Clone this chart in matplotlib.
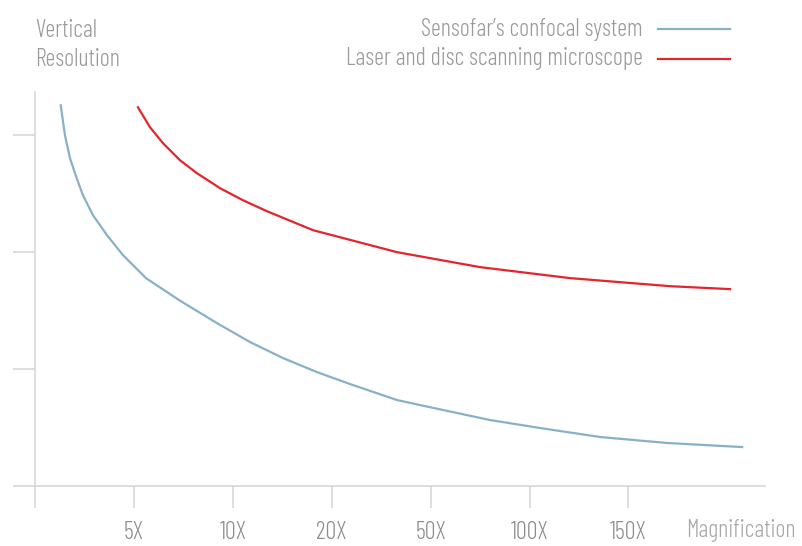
import matplotlib
matplotlib.use("Agg")
import matplotlib.pyplot as plt

plt.rcParams['font.family'] = ['Barlow Condensed', 'DejaVu Sans']
plt.rcParams['font.weight'] = 300
plt.rcParams['axes.labelweight'] = 300

# x in tick units (0 = origin, 1 = 5X, 2 = 10X, ...)
confocal_x = [0.260, 0.303, 0.354, 0.425, 0.485, 0.586, 0.728, 0.890, 1.122, 1.466,
              1.840, 2.174, 2.508, 2.851, 3.185, 3.660, 4.125, 4.601, 5.106, 5.713, 6.390, 7.149]
confocal_y = [3.256, 3.000, 2.803, 2.624, 2.487, 2.316, 2.145, 1.974, 1.778, 1.585,
              1.393, 1.231, 1.094, 0.974, 0.872, 0.735, 0.650, 0.564, 0.496, 0.419, 0.368, 0.333]

laser_x = [1.041, 1.163, 1.294, 1.466, 1.638, 1.871, 2.103, 2.346, 2.811, 3.660, 4.500, 5.410, 6.421, 7.027]
laser_y = [3.239, 3.068, 2.932, 2.786, 2.675, 2.547, 2.444, 2.350, 2.188, 2.000, 1.872, 1.778, 1.709, 1.684]

tick_pos = [0, 1, 2, 3, 4, 5, 6]
tick_labels = ['', '5X', '10X', '20X', '50X', '100X', '150X']

spine_col = '#d4d4d4'
text_col = '#9a9a9a'
fs = 17.5

fig = plt.figure(figsize=(8.02, 5.46), dpi=100)
ax = fig.add_axes([35/802, 60/546, 730/802, 394/546])

ax.plot(confocal_x, confocal_y, color='#88b1c7', lw=1.6, solid_joinstyle='round',
        label="Sensofar\u2019s confocal system")
ax.plot(laser_x, laser_y, color='#e5242b', lw=1.6, solid_joinstyle='round',
        label='Laser and disc scanning microscope')

ax.set_xlim(0, 7.38)
ax.set_ylim(0, 3.37)

for s in ['top', 'right']:
    ax.spines[s].set_visible(False)
for s in ['left', 'bottom']:
    ax.spines[s].set_color(spine_col)
    ax.spines[s].set_linewidth(1.1)

ax.set_xticks(tick_pos)
ax.set_xticklabels(tick_labels)
ax.set_yticks([0, 1, 2, 3])
ax.set_yticklabels([])
ax.tick_params(axis='both', length=16, width=1.1, color=spine_col,
               labelsize=fs, labelcolor='#8c8c8c', pad=9)

ax.set_xlabel('Magnification', fontsize=fs, fontweight=300, color='#a8a8a8', ha='left', va='center')
ax.xaxis.set_label_coords((686-35)/730, (486-530)/394)

fig.text(35/802, 1-19/546, 'Vertical\nResolution', fontsize=fs, color=text_col,
         ha='left', va='top', linespacing=1.35)

leg = ax.legend(loc='upper right', bbox_to_anchor=(730/802, 1-18/546),
                bbox_transform=fig.transFigure, frameon=False, markerfirst=False,
                fontsize=fs, handlelength=2.95, handletextpad=0.65, handleheight=0.2,
                labelspacing=0.26, borderpad=0, borderaxespad=0)
for t in leg.get_texts():
    t.set_color(text_col)

fig.savefig('out.png', dpi=100)
